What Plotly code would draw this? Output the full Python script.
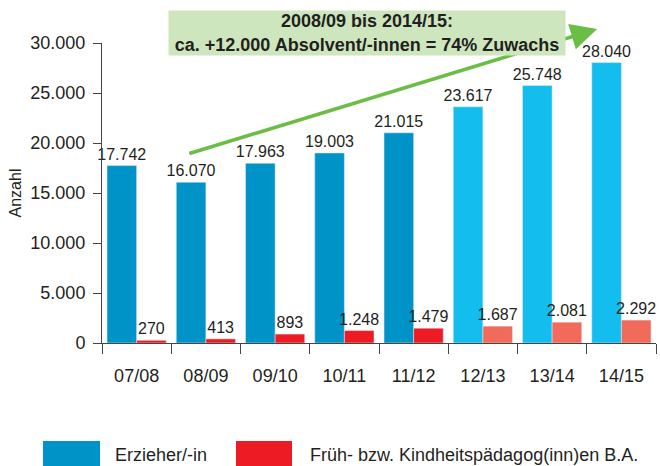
import plotly.graph_objects as go

years = ["07/08", "08/09", "09/10", "10/11", "11/12", "12/13", "13/14", "14/15"]
erzieher = [17742, 16070, 17963, 19003, 21015, 23617, 25748, 28040]
kindheit = [270, 413, 893, 1248, 1479, 1687, 2081, 2292]
series_names = ["Erzieher/-in", "Früh- bzw. Kindheitspädagog(inn)en B.A."]
y_ticks = [0, 5000, 10000, 15000, 20000, 25000, 30000]
headline = "2008/09 bis 2014/15:<br>ca. +12.000 Absolvent/-innen = 74% Zuwachs"

# styles
BLUE, BLUE_L = "#0093C8", "#13BDEE"
RED, RED_L = "#ED1C24", "#F26A5A"
blue_cols = [BLUE] * 5 + [BLUE_L] * 3
red_cols = [RED] * 5 + [RED_L] * 3
TXT = "#231F20"
FONT = "Liberation Sans, Arial, sans-serif"

fig = go.Figure()
fig.add_trace(go.Bar(x=years, y=erzieher, name=series_names[0], marker_color=blue_cols,
                     texttemplate="%{y:,d}", textposition="outside", constraintext="none",
                     cliponaxis=False, textfont=dict(size=16, color=TXT, family=FONT)))
fig.add_trace(go.Bar(x=years, y=kindheit, name=series_names[1], marker_color=red_cols,
                     texttemplate="%{y:,d}", textposition="outside", constraintext="none",
                     cliponaxis=False, textfont=dict(size=16, color=TXT, family=FONT)))

L, R, T, B = 102, 4, 43, 123
W, H = 660, 466
pw, ph = W - L - R, H - T - B

def px(x):
    return (x - L) / pw

def py(y):
    return (H - B - y) / ph

# trend arrow (tail and tip in data coordinates)
fig.add_annotation(x=6.65, y=31400, ax=0.74, ay=18900, xref="x", yref="y", axref="x", ayref="y",
                   showarrow=True, arrowhead=2, arrowsize=1.5, arrowwidth=3.5,
                   arrowcolor="#6ABD45", standoff=0, text="")
# headline box
fig.add_annotation(x=px(367), y=py(33), xref="paper", yref="paper", text="<b>" + headline + "</b>",
                   showarrow=False, bgcolor="#CEE6BE", width=396, height=44,
                   font=dict(size=18, color=TXT, family=FONT), align="center",
                   xanchor="center", yanchor="middle", borderpad=0)

# custom legend
for (x0, x1, col, tx, name) in [(43, 100, BLUE, 113, series_names[0]), (236, 292, RED, 308, series_names[1])]:
    fig.add_shape(type="rect", xref="paper", yref="paper", x0=px(x0), x1=px(x1),
                  y0=py(441), y1=py(467), fillcolor=col, line_width=0)
    fig.add_annotation(x=px(tx), y=py(455), xref="paper", yref="paper", text=name, showarrow=False,
                       xanchor="left", yanchor="middle", font=dict(size=18, color=TXT, family=FONT))

fig.update_layout(
    width=W, height=H, margin=dict(l=L, r=R, t=T, b=B),
    plot_bgcolor="white", paper_bgcolor="white",
    barmode="group", bargap=0.145, bargroupgap=0,
    separators=",.", showlegend=False,
    font=dict(family=FONT, color=TXT),
)
fig.update_xaxes(showline=True, linecolor="#444", linewidth=1, ticks="outside", tickson="boundaries",
                 ticklen=10, tickcolor="#444", tickfont=dict(size=18, color=TXT), showgrid=False,
                 ticklabelstandoff=16)
fig.update_yaxes(range=[0, 30000], tickvals=y_ticks, tickformat=",d", showline=True, linecolor="#444",
                 linewidth=1, ticks="outside", ticklen=8, tickcolor="#444", showgrid=False, zeroline=False,
                 tickfont=dict(size=18, color=TXT), ticklabelstandoff=4,
                 title=dict(text="Anzahl", font=dict(size=16, color=TXT), standoff=4))

fig.write_html("out.html", config={"displayModeBar": False},
               post_script="document.body.style.margin='0';document.body.style.overflow='hidden';")
